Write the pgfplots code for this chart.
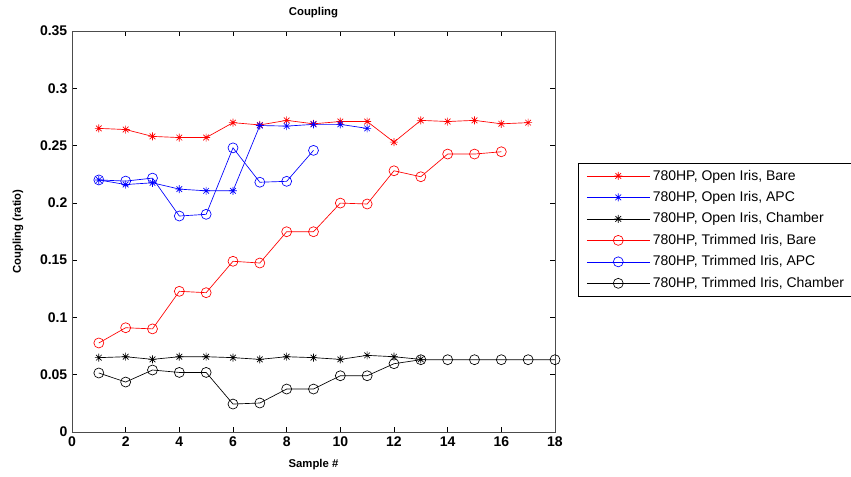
\documentclass[border=0pt]{standalone}
\usepackage{fontspec}
\setmainfont{Liberation Sans}
\usepackage{pgfplots}
\pgfplotsset{compat=1.18}

% MATLAB-style '*' marker: a plus and a cross on top of each other
\pgfdeclareplotmark{mstar}{%
  \pgfpathmoveto{\pgfqpoint{-\pgfplotmarksize}{0pt}}%
  \pgfpathlineto{\pgfqpoint{\pgfplotmarksize}{0pt}}%
  \pgfpathmoveto{\pgfqpoint{0pt}{-\pgfplotmarksize}}%
  \pgfpathlineto{\pgfqpoint{0pt}{\pgfplotmarksize}}%
  \pgfpathmoveto{\pgfqpoint{-0.707\pgfplotmarksize}{-0.707\pgfplotmarksize}}%
  \pgfpathlineto{\pgfqpoint{0.707\pgfplotmarksize}{0.707\pgfplotmarksize}}%
  \pgfpathmoveto{\pgfqpoint{-0.707\pgfplotmarksize}{0.707\pgfplotmarksize}}%
  \pgfpathlineto{\pgfqpoint{0.707\pgfplotmarksize}{-0.707\pgfplotmarksize}}%
  \pgfusepathqstroke}

\begin{document}
\begin{tikzpicture}
  \begin{axis}[
    scale only axis,
    width=362.25pt, height=300.75pt,
    xmin=0, xmax=18, ymin=0, ymax=0.35,
    xtick={0,2,...,18},
    ytick={0,0.05,0.1,0.15,0.2,0.25,0.3,0.35},
    tick align=inside,
    major tick length=4pt,
    axis line style={black!70},
    every tick/.style={black},
    tick label style={font=\fontsize{10.5}{12}\selectfont\bfseries},
    /pgf/number format/assume math mode=true,
    yticklabel style={/pgf/number format/fixed,/pgf/number format/precision=2},
    xlabel={\bfseries Sample \#},
    ylabel={\bfseries Coupling (ratio)},
    label style={font=\fontsize{8.5}{10}\selectfont},
    xlabel style={at={(axis description cs:0.5,-0.082)}, anchor=center},
    ylabel style={at={(axis description cs:-0.112,0.5)}, anchor=center},
    legend style={at={(axis description cs:1.048,0.671)}, anchor=north west,
      font=\fontsize{10.5}{12}\selectfont, draw=black, row sep=3pt,
      inner xsep=6pt, inner ysep=3pt, cells={anchor=west}},
    legend image code/.code={%
      \draw[mark repeat=2,mark phase=2,#1] plot coordinates {(0cm,0cm) (0.83cm,0cm) (1.66cm,0cm)};},
    every axis plot/.append style={line width=0.5pt},
    clip=false,
  ]
    % Open Iris, Bare
    \addplot[red, mark=mstar, mark size=3pt] coordinates {
      (1,0.265) (2,0.264) (3,0.258) (4,0.257) (5,0.257) (6,0.270) (7,0.268) (8,0.272) (9,0.269)
      (10,0.271) (11,0.271) (12,0.253) (13,0.272) (14,0.271) (15,0.272) (16,0.269) (17,0.270)};
    \addlegendentry{780HP, Open Iris, Bare}
    % Open Iris, APC
    \addplot[blue, mark=mstar, mark size=3pt] coordinates {
      (1,0.220) (2,0.216) (3,0.2175) (4,0.212) (5,0.2105) (6,0.2105) (7,0.2675) (8,0.267) (9,0.2685)
      (10,0.2685) (11,0.265)};
    \addlegendentry{780HP, Open Iris, APC}
    % Open Iris, Chamber
    \addplot[black, mark=mstar, mark size=3pt] coordinates {
      (1,0.0649) (2,0.0657) (3,0.0634) (4,0.0657) (5,0.0657) (6,0.0649) (7,0.0634) (8,0.0657) (9,0.0649)
      (10,0.0634) (11,0.0669) (12,0.0657) (13,0.0634)};
    \addlegendentry{780HP, Open Iris, Chamber}
    % Trimmed Iris, Bare
    \addplot[red, mark=o, mark size=3.75pt] coordinates {
      (1,0.0777) (2,0.091) (3,0.090) (4,0.1228) (5,0.1216) (6,0.149) (7,0.1475) (8,0.1748) (9,0.1748)
      (10,0.1998) (11,0.199) (12,0.228) (13,0.2228) (14,0.2426) (15,0.2426) (16,0.2446)};
    \addlegendentry{780HP, Trimmed Iris, Bare}
    % Trimmed Iris, APC
    \addplot[blue, mark=o, mark size=3.75pt] coordinates {
      (1,0.220) (2,0.219) (3,0.2216) (4,0.1885) (5,0.190) (6,0.248) (7,0.218) (8,0.2188) (9,0.2458)};
    \addlegendentry{780HP, Trimmed Iris, APC}
    % Trimmed Iris, Chamber
    \addplot[black, mark=o, mark size=3.75pt] coordinates {
      (1,0.0515) (2,0.0436) (3,0.0541) (4,0.052) (5,0.052) (6,0.0244) (7,0.0253) (8,0.0375) (9,0.0375)
      (10,0.0491) (11,0.0491) (12,0.0596) (13,0.0631) (14,0.0631) (15,0.0631) (16,0.0631) (17,0.0631) (18,0.0631)};
    \addlegendentry{780HP, Trimmed Iris, Chamber}
    % title
    \node[font=\fontsize{8.5}{10}\selectfont\bfseries] at (axis description cs:0.5,1.047) {Coupling};
  \end{axis}
  % page = 851 x 476 px at 0.75pt per px, axis box at px (72..555, 31..432)
  \pgfresetboundingbox
  \path (current axis.south west) ++(-54pt,-33pt) rectangle ++(638.25pt,357pt);
\end{tikzpicture}
\end{document}
